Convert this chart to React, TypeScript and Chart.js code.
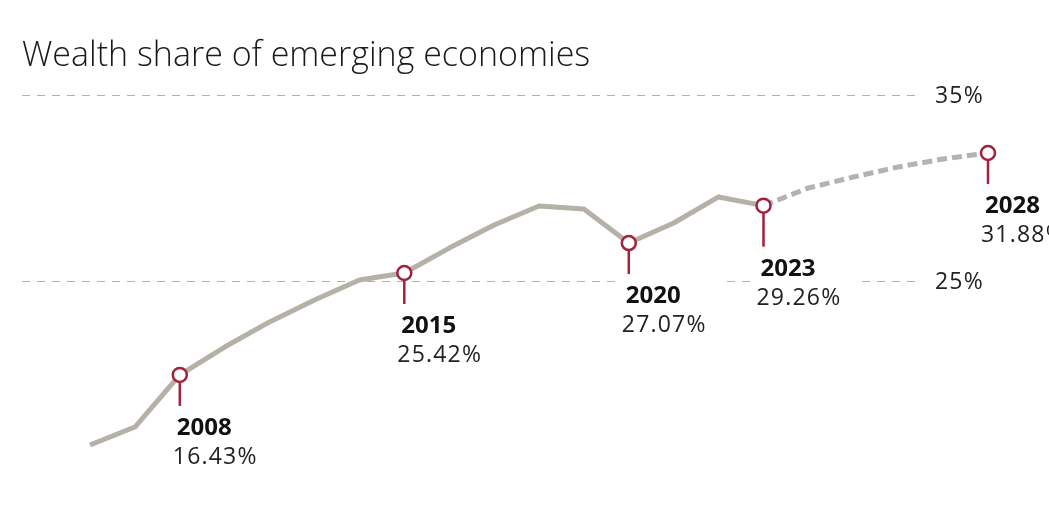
import React, { useEffect, useRef } from "react";
import { Chart, registerables } from "chart.js";

Chart.register(...registerables);

const titleText = "Wealth share of emerging economies";
const categories = ["2000", "2004", "2008", "2010", "2011", "2012", "2013", "2015", "2016", "2017", "2018", "2019", "2020", "2021", "2022", "2023", "2024", "2025", "2026", "2027", "2028"];
const actualValues: (number | null)[] = [16.18, 17.15, 19.95, 21.45, 22.8, 23.98, 25.05, 25.43, 26.77, 28.01, 29.03, 28.87, 27.04, 28.12, 29.52, 29.05, null, null, null, null, null];
const projectedValues: (number | null)[] = [null, null, null, null, null, null, null, null, null, null, null, null, null, null, null, 29.05, 30.0, 30.59, 31.13, 31.56, 31.88];
const highlightIndices = [2, 7, 12, 15, 20];
const highlightYears = ["2008", "2015", "2020", "2023", "2028"];
const highlightLabels = ["16.43%", "25.42%", "27.07%", "29.26%", "31.88%"];
const gridValues = [25, 35];
const gridLabels = ["25%", "35%"];

const FONT = "'Open Sans', 'Noto Sans', sans-serif";
const RED = "#a3213a";

const overlayPlugin = {
  id: "overlay",
  beforeDatasetsDraw(chart: any) {
    const ctx = chart.ctx;
    const y = chart.scales.y;
    ctx.save();
    // title
    ctx.fillStyle = "#1a1a1a";
    ctx.font = `300 34px ${FONT}`;
    ctx.textBaseline = "alphabetic";
    ctx.textAlign = "left";
    ctx.fillText(titleText, 22, 66);
    // grid lines
    gridValues.forEach((v, i) => {
      const py = Math.round(y.getPixelForValue(v)) + 0.5;
      ctx.beginPath();
      ctx.setLineDash([8, 7]);
      ctx.strokeStyle = "#b0b0b0";
      ctx.lineWidth = 1;
      ctx.moveTo(22, py);
      ctx.lineTo(915, py);
      ctx.stroke();
      ctx.setLineDash([]);
      ctx.fillStyle = "#222222";
      ctx.font = `400 23px ${FONT}`;
      (ctx as any).letterSpacing = "1.2px";
      ctx.textBaseline = "middle";
      ctx.fillText(gridLabels[i], 935, py + 1);
      (ctx as any).letterSpacing = "0px";
    });
    ctx.restore();
  },
  afterDatasetsDraw(chart: any) {
    const ctx = chart.ctx;
    const xs = chart.scales.x;
    const ys = chart.scales.y;
    ctx.save();
    highlightIndices.forEach((idx, i) => {
      const v = actualValues[idx] ?? projectedValues[idx];
      const px = xs.getPixelForValue(idx);
      const py = ys.getPixelForValue(v as number);
      // 2023 callout sits a bit lower in the original
      const shift = highlightYears[i] === "2023" ? 10 : 0;
      ctx.font = `700 24px ${FONT}`;
      const w1 = ctx.measureText(highlightYears[i]).width;
      ctx.font = `400 23px ${FONT}`;
      (ctx as any).letterSpacing = "1.2px";
      const w2 = ctx.measureText(highlightLabels[i]).width;
      (ctx as any).letterSpacing = "0px";
      const tw = Math.max(w1, w2);
      ctx.fillStyle = "#ffffff";
      ctx.fillRect(px - 12, py + 32 + shift, tw + 22, 64);
      // stem
      ctx.beginPath();
      ctx.strokeStyle = RED;
      ctx.lineWidth = 2.5;
      ctx.moveTo(px, py + 7);
      ctx.lineTo(px, py + 31 + shift);
      ctx.stroke();
      // circle
      ctx.beginPath();
      ctx.arc(px, py, 7, 0, Math.PI * 2);
      ctx.fillStyle = "#ffffff";
      ctx.fill();
      ctx.lineWidth = 2.5;
      ctx.stroke();
      // texts
      ctx.textAlign = "left";
      ctx.textBaseline = "alphabetic";
      ctx.fillStyle = "#111111";
      ctx.font = `700 24px ${FONT}`;
      ctx.fillText(highlightYears[i], px - 3, py + 60 + shift);
      ctx.fillStyle = "#222222";
      ctx.font = `400 23px ${FONT}`;
      (ctx as any).letterSpacing = "1.2px";
      ctx.fillText(highlightLabels[i], px - 7, py + 89 + shift);
      (ctx as any).letterSpacing = "0px";
    });
    ctx.restore();
  },
};

export default function App() {
  const ref = useRef<HTMLCanvasElement | null>(null);
  useEffect(() => {
    if (!ref.current) return;
    const chart = new Chart(ref.current, {
      type: "line",
      data: {
        labels: categories,
        datasets: [
          {
            label: "Wealth share",
            data: actualValues,
            borderColor: "#b5b1a7",
            borderWidth: 5,
            pointRadius: 0,
            tension: 0,
            spanGaps: false,
            borderJoinStyle: "round",
          },
          {
            label: "Projection",
            data: projectedValues,
            borderColor: "#b3b3b3",
            borderWidth: 5,
            borderDash: [10, 5],
            pointRadius: 0,
            tension: 0,
            spanGaps: false,
          },
        ],
      },
      options: {
        responsive: false,
        animation: false,
        layout: { padding: { left: 90, right: 61, top: 95, bottom: 36.4 } },
        plugins: { legend: { display: false }, tooltip: { enabled: false }, title: { display: false } },
        scales: {
          x: { type: "category", display: false, offset: false },
          y: { display: false, min: 14, max: 35 },
        },
      },
      plugins: [overlayPlugin],
    } as any);
    return () => chart.destroy();
  }, []);
  return (
    <div style={{ position: "fixed", left: 0, top: 0, width: 1049, height: 522, background: "#fff" }}>
      <canvas ref={ref} width={1049} height={522} style={{ display: "block" }} />
    </div>
  );
}
